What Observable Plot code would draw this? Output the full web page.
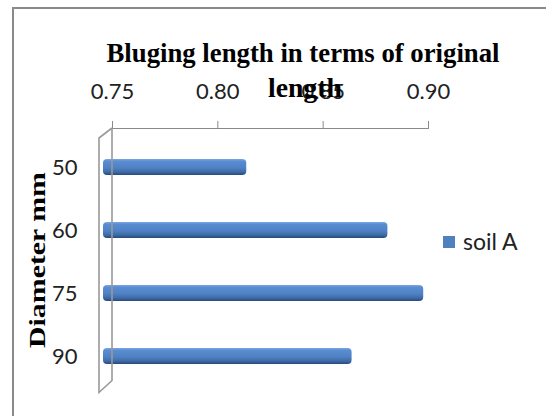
<!DOCTYPE html>
<html><head><meta charset="utf-8">
<script src="https://cdn.jsdelivr.net/npm/d3@7"></script>
<script src="https://cdn.jsdelivr.net/npm/@observablehq/plot@0.6"></script>
<style>
body{margin:0;background:#fff;}
#frame{position:absolute;left:12px;top:7px;width:620px;height:520px;border-left:2px solid #8a8a8a;border-top:2px solid #8a8a8a;}
#chart{position:absolute;left:0;top:0;}
</style></head><body><div id="frame"></div><div id="chart"></div>
<script>
const diameters = ["50", "60", "75", "90"];
const values = [0.818, 0.885, 0.902, 0.868];
const xTicks = [0.75, 0.80, 0.85, 0.90];
const titleLines = ["Bluging length in terms of original", "length"];
const yTitle = "Diameter mm";
const seriesName = "soil A";
const data = diameters.map((d, i) => ({diameter: d, value: values[i]}));

const plot = Plot.plot({
  width: 546, height: 416,
  marginLeft: 112, marginRight: 118, marginTop: 128, marginBottom: 21.5,
  style: {background: "transparent", fontFamily: "Lato", fontSize: "22px", color: "#8a8a8a"},
  x: {domain: [0.75, 0.90], ticks: xTicks, tickFormat: d3.format(".2f"), axis: "top", line: true, tickSize: 8, tickPadding: 22, label: null},
  y: {domain: diameters, paddingInner: 0.745, paddingOuter: 0.47, tickSize: 0, tickPadding: 35, label: null},
  marks: [
    Plot.barX(data, {x1: 0.75, x2: "value", y: "diameter", fill: "url(#barGrad)", rx: 4, dx: -9})
  ]
});
document.getElementById("chart").appendChild(plot);
const svg = d3.select(plot);
svg.selectAll("text").attr("fill", "#222");

const defs = svg.insert("defs", ":first-child");
const g = defs.append("linearGradient").attr("id", "barGrad").attr("x1", 0).attr("y1", 0).attr("x2", 0).attr("y2", 1);
[["0%", "#7aa6e3"], ["15%", "#5a8cd2"], ["55%", "#4f81c4"], ["80%", "#3f6ca8"], ["100%", "#284a7a"]]
  .forEach(([o, c]) => g.append("stop").attr("offset", o).attr("stop-color", c));

// 3D wall on the left
const xs = plot.scale("x"), ys = plot.scale("y");
const x0 = xs.apply(0.75), [yTop, yBot] = ys.range;
const wall = svg.append("g").attr("fill", "none").attr("stroke", "#999").attr("stroke-width", 1.6);
wall.append("path").attr("d", `M${x0},${yTop} L${x0},${yBot - 14} L${x0 - 13},${yBot - 2} L${x0 - 13},${yTop + 10} L${x0},${yTop}`);

// Titles
svg.append("text").attr("x", 303).attr("y", 62).attr("text-anchor", "middle")
  .attr("font-family", "Liberation Serif").attr("font-weight", "bold").attr("font-size", 27).attr("fill", "#000")
  .attr("textLength", 393).attr("lengthAdjust", "spacingAndGlyphs")
  .text(titleLines[0]);
svg.append("text").attr("x", 305).attr("y", 97).attr("text-anchor", "middle")
  .attr("font-family", "Liberation Serif").attr("font-weight", "bold").attr("font-size", 27).attr("fill", "#000")
  .attr("textLength", 74).attr("lengthAdjust", "spacingAndGlyphs")
  .text(titleLines[1]);
svg.append("text").attr("transform", "translate(45,260) rotate(-90)").attr("text-anchor", "middle")
  .attr("font-family", "Liberation Serif").attr("font-weight", "bold").attr("font-size", 23).attr("fill", "#000")
  .attr("textLength", 176).attr("lengthAdjust", "spacingAndGlyphs")
  .text(yTitle);

// Legend
svg.append("rect").attr("x", 443).attr("y", 236).attr("width", 12).attr("height", 12).attr("fill", "#4f81bd");
svg.append("text").attr("x", 463).attr("y", 250).attr("text-anchor", "start").attr("font-family", "Lato").attr("font-size", 23).attr("fill", "#222").text(seriesName);
</script></body></html>
